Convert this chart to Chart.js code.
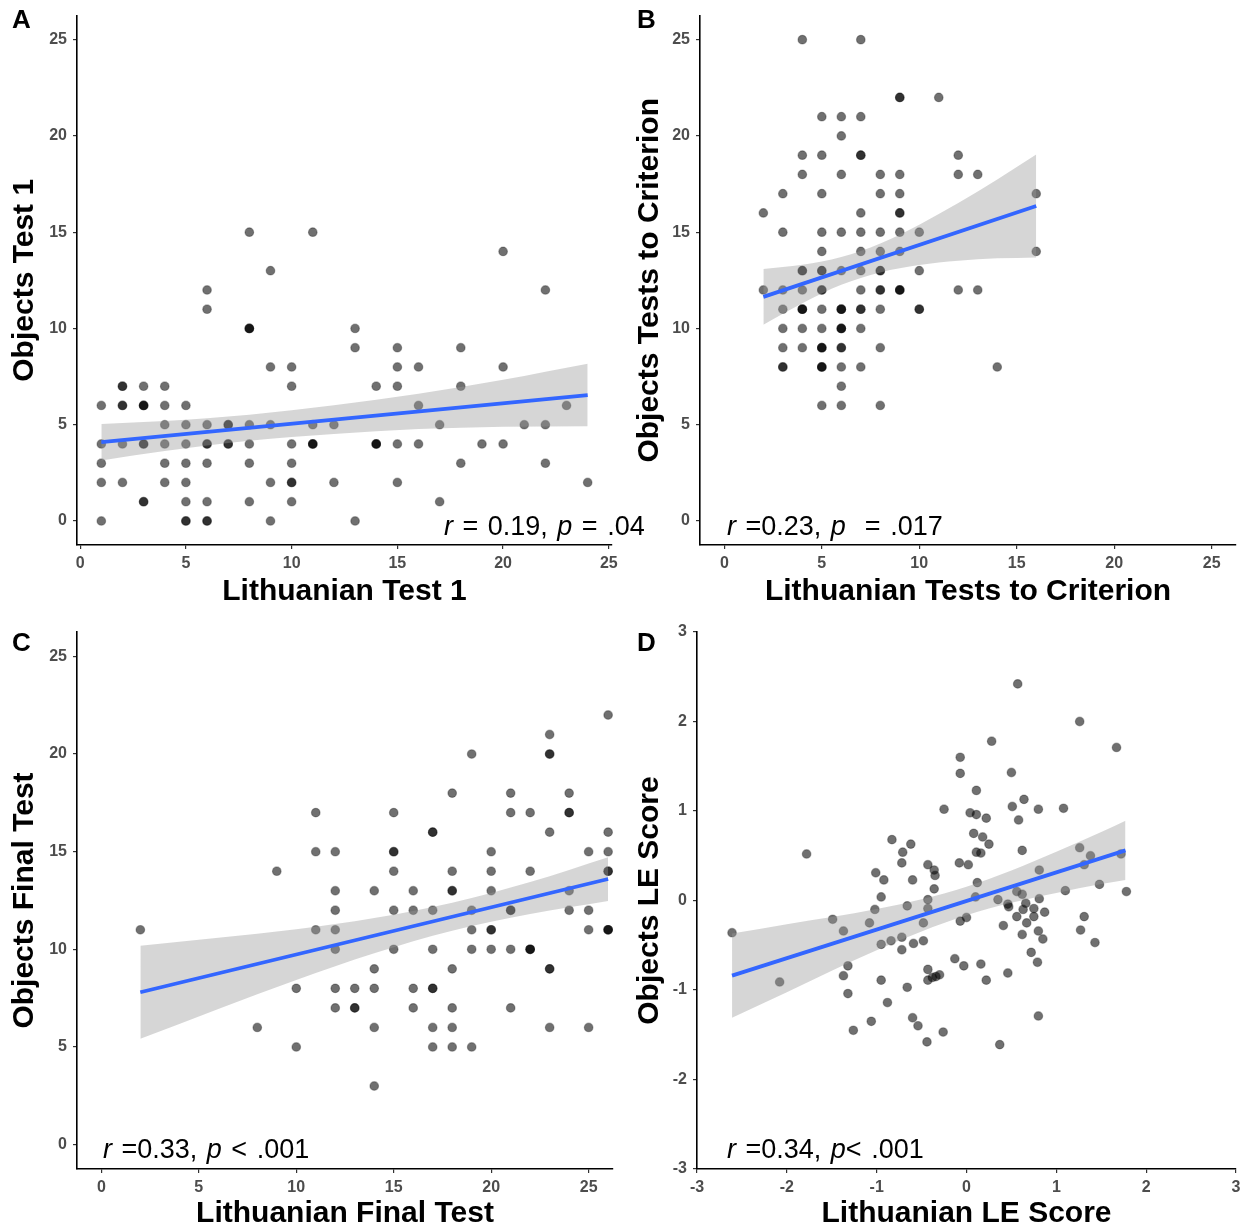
<!DOCTYPE html>
<html>
<head>
<meta charset="utf-8">
<title>Lithuanian vs Objects scores</title>
<script src="https://cdn.jsdelivr.net/npm/chart.js@4.4.1/dist/chart.umd.min.js"></script>
<style>
  body { margin: 0; background: #fff; }
  #wrap { position: relative; width: 1246px; height: 1232px; font-family: "Liberation Sans", Arial, Helvetica, sans-serif; }
  .panel { position: absolute; width: 623px; height: 616px; }
  .tag { position: absolute; font-size: 26px; line-height: 26px; font-weight: bold; color: #000; }
  .stat { position: absolute; font-size: 27px; line-height: 27px; word-spacing: 2px; color: #000; white-space: pre; }
</style>
</head>
<body>
<div id="wrap">
  <canvas id="chartA" class="panel" width="623" height="616" style="left:0;top:0"></canvas>
  <canvas id="chartB" class="panel" width="623" height="616" style="left:623px;top:0"></canvas>
  <canvas id="chartC" class="panel" width="623" height="616" style="left:0;top:616px"></canvas>
  <canvas id="chartD" class="panel" width="623" height="616" style="left:623px;top:616px"></canvas>

  <div class="tag" style="left:12px;top:6px">A</div>
  <div class="tag" style="left:637px;top:6px">B</div>
  <div class="tag" style="left:12px;top:629px">C</div>
  <div class="tag" style="left:637px;top:629px">D</div>

  <div class="stat" style="left:444px;top:513px"><i>r</i> = 0.19, <i>p</i> = .04</div>
  <div class="stat" style="left:727px;top:513px"><i>r</i> =0.23, <i>p</i>  = .017</div>
  <div class="stat" style="left:103px;top:1136px"><i>r</i> =0.33, <i>p</i> &lt; .001</div>
  <div class="stat" style="left:727px;top:1136px"><i>r</i> =0.34, <i>p</i>&lt; .001</div>
</div>

<script>
// ---- data ----
const ticks0to25 = [0, 5, 10, 15, 20, 25];
const ticksLE = [-3, -2, -1, 0, 1, 2, 3];

// A: Test 1 (overlapping subjects repeated)
const lithTest1 = [
  1,1,1,1,1, 2,2,2,2,2,2, 3,3,3,3,3,3,3,3, 4,4,4,4,4,4, 5,5,5,5,5,5,5,5,
  6,6,6,6,6,6,6,6,6, 7,7,7,7, 8,8,8,8,8,8,8,8, 9,9,9,9,9, 10,10,10,10,10,10,10,
  11,11,11,11,11, 12,12, 13,13,13, 14,14,14,14, 15,15,15,15,15, 16,16,16, 17,17,
  18,18,18, 19, 20,20,20, 21, 22,22,22, 23, 24
];
const objTest1 = [
  6,4,3,2,0, 7,7,6,6,4,2, 7,6,6,6,4,4,1,1, 7,6,5,4,3,2, 6,5,4,3,2,1,0,0,
  12,11,5,4,4,3,1,0,0, 5,5,4,4, 15,10,10,10,5,4,3,1, 13,8,5,2,0, 8,7,4,3,2,2,1,
  15,5,4,4,4, 5,2, 10,9,0, 7,4,4,4, 9,8,7,4,2, 8,6,4, 5,1,
  9,7,3, 4, 14,8,4, 5, 12,5,3, 6, 2
];
const fitAX = [1, 24];
const fitAY = [4.09, 6.54];
const bandAX = [1, 4, 8, 12, 16, 20, 24];
const bandAHi = [5.04, 5.19, 5.52, 6.01, 6.61, 7.33, 8.16];
const bandALo = [3.14, 3.63, 4.16, 4.51, 4.77, 4.89, 4.92];

// B: tests to criterion
const lithTTC = [
  4,7, 9,9,11, 5,6,7, 6, 4,5,7,7,12, 4,6,8,9,12,13, 3,5,8,9,16, 2,7,9,9,
  3,5,6,7,8,9,10, 5,7,8,9,16, 4,4,5,5,6,7,8,8,10, 2,3,4,5,5,7,8,8,9,9,9,12,13,
  3,4,4,4,5,6,6,6,7,7,8,10,10, 3,4,5,6,6,6,7, 3,4,5,5,5,6,6,8, 3,3,5,5,5,6,7,14,
  6, 5,6,8
];
const objTTC = [
  25,25, 22,22,22, 21,21,21, 20, 19,19,19,19,19, 18,18,18,18,18,18, 17,17,17,17,17, 16,16,16,16,
  15,15,15,15,15,15,15, 14,14,14,14,14, 13,13,13,13,13,13,13,13,13, 12,12,12,12,12,12,12,12,12,12,12,12,12,
  11,11,11,11,11,11,11,11,11,11,11,11,11, 10,10,10,10,10,10,10, 9,9,9,9,9,9,9,9, 8,8,8,8,8,8,8,8,
  7, 6,6,6
];
const fitBX = [2, 16];
const fitBY = [11.64, 16.36];
const bandBX = [2, 4, 6, 8, 10, 12, 14, 16];
const bandBHi = [13.09, 13.31, 13.71, 14.41, 15.39, 16.51, 17.74, 19.03];
const bandBLo = [10.19, 11.31, 12.27, 12.91, 13.29, 13.51, 13.64, 13.69];

// C: final test
const lithFinal = [
  26, 23, 19,23,23, 18,21,24, 11,15,21,22,24,24, 17,17,23,26, 11,12,15,15,20,25,26,
  9,15,18,20,22,26,26, 12,14,16,18,18,20,24, 12,15,16,17,19,21,21,24,25,
  2,11,12,19,20,20,25,26,26,26, 12,15,17,19,20,21,22,22,22, 14,18,23,23,
  10,12,13,14,16,17,17, 12,13,13,16,18,21, 8,14,17,18,23,25, 10,17,18,19, 14
];
const objFinal = [
  22, 21, 20,20,20, 18,18,18, 17,17,17,17,17,17, 16,16,16,16, 15,15,15,15,15,15,15,
  14,14,14,14,14,14,14, 13,13,13,13,13,13,13, 12,12,12,12,12,12,12,12,12,
  11,11,11,11,11,11,11,11,11,11, 10,10,10,10,10,10,10,10,10, 9,9,9,9,
  8,8,8,8,8,8,8, 7,7,7,7,7,7, 6,6,6,6,6,6, 5,5,5,5, 3
];
const fitCX = [2, 26];
const fitCY = [7.80, 13.60];
const bandCX = [2, 6, 10, 14, 18, 22, 26];
const bandCHi = [10.18, 10.59, 11.03, 11.60, 12.39, 13.45, 14.72];
const bandCLo = [5.42, 6.95, 8.43, 9.80, 10.95, 11.81, 12.48];

// D: LE scores
const lithLE = [
  -2.61,-1.78,-2.08,-0.83,-0.62,-0.71,-0.72,-1.01,-0.92,-0.60,-0.95,-1.02,-0.66,-1.49,-1.37,-1.08,-0.48,
  -0.95,-0.84,-0.72,-0.72,-0.59,-0.48,-1.32,-1.37,-0.95,-0.66,-1.32,-0.88,-1.06,-1.26,-0.60,-0.54,
  -0.43,-0.36,-0.35,-0.36,-0.43,-0.43,-0.43,-0.43,-0.38,-0.34,-0.30,-0.44,-0.26,
  0.57,1.26,1.67,0.28,-0.07,-0.07,0.50,0.11,0.64,-0.25,0.51,0.80,1.08,0.04,0.11,0.22,0.58,
  0.08,0.18,0.25,0.11,0.16,0.62,-0.08,0.02,1.26,1.38,1.31,1.72,0.81,0.12,0.10,0.35,0.56,0.62,
  0.46,0.47,0.66,0.81,0.63,0.75,0.87,1.10,1.48,1.78,0.56,0.75,0.67,0.41,0.00,-0.07,1.31,1.27,
  1.43,0.80,0.85,0.62,0.72,0.79,0.46,0.16,0.22,-0.03,-0.13,0.80,0.37
];
const objLE = [
  -0.36,0.52,-0.91,0.68,0.63,0.54,0.42,0.31,0.23,0.23,0.04,-0.10,-0.06,-0.21,-0.34,-0.25,-0.25,
  -0.49,-0.45,-0.41,-0.55,-0.48,-0.45,-0.73,-0.84,-0.89,-0.97,-1.04,-1.14,-1.35,-1.45,-1.31,-1.40,
  0.40,0.34,0.28,0.13,0.01,-0.09,-0.77,-0.89,-0.86,-0.85,-0.83,-1.58,-1.47,
  2.42,2.00,1.71,1.78,1.60,1.42,1.43,1.23,1.13,1.02,1.05,1.02,1.03,0.98,0.96,0.92,0.90,
  0.75,0.71,0.63,0.54,0.53,0.56,0.42,0.40,0.59,0.50,0.40,0.52,0.34,0.20,0.04,0.01,0.10,0.07,
  -0.04,-0.07,-0.03,0.02,-0.10,-0.09,-0.13,0.11,0.18,0.10,-0.18,-0.18,-0.25,-0.28,-0.19,-0.23,-0.18,-0.33,
  -0.47,-0.34,-0.43,-0.38,-0.58,-0.69,-0.81,-0.71,-0.89,-0.73,-0.65,-1.29,-1.61
];
const fitDX = [-2.61, 1.77];
const fitDY = [-0.84, 0.56];
const bandDX = [-2.61, -2, -1.5, -1, -0.5, 0, 0.5, 1, 1.5, 1.77];
const bandDHi = [-0.37, -0.265, -0.185, -0.095, 0.015, 0.155, 0.335, 0.545, 0.765, 0.89];
const bandDLo = [-1.31, -1.025, -0.785, -0.555, -0.345, -0.165, -0.025, 0.085, 0.185, 0.23];

// ---- drawing ----
const FONT = "'Liberation Sans', Arial, Helvetica, sans-serif";

function pairs(xs, ys) {
  return xs.map((x, i) => ({ x: x, y: ys[i] }));
}

function axis(o) {
  return {
    type: "linear",
    min: o.min,
    max: o.max,
    afterFit: o.fit,
    afterBuildTicks: (s) => { s.ticks = o.ticks.map((v) => ({ value: v })); },
    grid: { drawOnChartArea: false, drawTicks: true, tickLength: 4, color: "#333333", lineWidth: 1.2 },
    border: { display: true, color: "#000000", width: 1.6 },
    ticks: {
      autoSkip: false, maxRotation: 0, padding: o.tickPad,
      color: "#4d4d4d", font: { family: FONT, size: 16, weight: "bold" }
    },
    title: {
      display: true, text: o.title, color: "#000000",
      font: { family: FONT, size: 30, weight: "bold" },
      padding: o.titlePad
    }
  };
}

function makePanel(id, p) {
  new Chart(document.getElementById(id), {
    type: "scatter",
    data: {
      datasets: [
        {
          data: pairs(p.x, p.y), order: 3,
          pointRadius: 4.3, pointHoverRadius: 4.3,
          backgroundColor: "rgba(0,0,0,0.56)", borderColor: "rgba(0,0,0,0.3)", borderWidth: 1.2
        },
        {
          data: pairs(p.bandX, p.bandHi), order: 1, showLine: true, fill: "+1",
          backgroundColor: "rgba(153,153,153,0.4)", borderColor: "rgba(0,0,0,0)",
          borderWidth: 1, pointRadius: 0, cubicInterpolationMode: "monotone"
        },
        {
          data: pairs(p.bandX, p.bandLo), order: 2, showLine: true, fill: false,
          borderColor: "rgba(0,0,0,0)", borderWidth: 1, pointRadius: 0,
          cubicInterpolationMode: "monotone"
        },
        {
          data: pairs(p.fitX, p.fitY), order: 0, showLine: true, fill: false,
          borderColor: "#3366ff", borderWidth: 3.8, pointRadius: 0
        }
      ]
    },
    options: {
      responsive: false,
      animation: false,
      events: [],
      layout: { padding: { left: 0, top: p.padTop, right: p.padRight, bottom: 0 } },
      plugins: { legend: { display: false }, tooltip: { enabled: false } },
      scales: {
        x: axis({
          min: p.xMin, max: p.xMax, ticks: p.xTicks, title: p.xTitle, tickPad: 5,
          titlePad: { top: 0, bottom: p.xTitlePad },
          fit: (s) => { s.height = p.xH; }
        }),
        y: axis({
          min: p.yMin, max: p.yMax, ticks: p.yTicks, title: p.yTitle, tickPad: 6,
          titlePad: { top: p.yTitlePad, bottom: 0 },
          fit: (s) => { s.width = p.yW; }
        })
      }
    }
  });
}

makePanel("chartA", {
  x: lithTest1, y: objTest1, fitX: fitAX, fitY: fitAY,
  bandX: bandAX, bandHi: bandAHi, bandLo: bandALo,
  xMin: -0.15, xMax: 25.15, yMin: -1.25, yMax: 26.25,
  xTicks: ticks0to25, yTicks: ticks0to25,
  xTitle: "Lithuanian Test 1", yTitle: "Objects Test 1",
  padTop: 8, padRight: 11, xH: 71, yW: 77, xTitlePad: 6, yTitlePad: 7
});

makePanel("chartB", {
  x: lithTTC, y: objTTC, fitX: fitBX, fitY: fitBY,
  bandX: bandBX, bandHi: bandBHi, bandLo: bandBLo,
  xMin: -1.25, xMax: 26.25, yMin: -1.25, yMax: 26.25,
  xTicks: ticks0to25, yTicks: ticks0to25,
  xTitle: "Lithuanian Tests to Criterion", yTitle: "Objects Tests to Criterion",
  padTop: 8, padRight: 10, xH: 71, yW: 77, xTitlePad: 6, yTitlePad: 9
});

makePanel("chartC", {
  x: lithFinal, y: objFinal, fitX: fitCX, fitY: fitCY,
  bandX: bandCX, bandHi: bandCHi, bandLo: bandCLo,
  xMin: -1.25, xMax: 26.25, yMin: -1.25, yMax: 26.25,
  xTicks: ticks0to25, yTicks: ticks0to25,
  xTitle: "Lithuanian Final Test", yTitle: "Objects Final Test",
  padTop: 16, padRight: 10, xH: 63, yW: 77, xTitlePad: 0, yTitlePad: 7
});

makePanel("chartD", {
  x: lithLE, y: objLE, fitX: fitDX, fitY: fitDY,
  bandX: bandDX, bandHi: bandDHi, bandLo: bandDLo,
  xMin: -3, xMax: 3, yMin: -3, yMax: 3,
  xTicks: ticksLE, yTicks: ticksLE,
  xTitle: "Lithuanian LE Score", yTitle: "Objects LE Score",
  padTop: 16, padRight: 10, xH: 63, yW: 74, xTitlePad: 0, yTitlePad: 9
});
</script>
</body>
</html>
